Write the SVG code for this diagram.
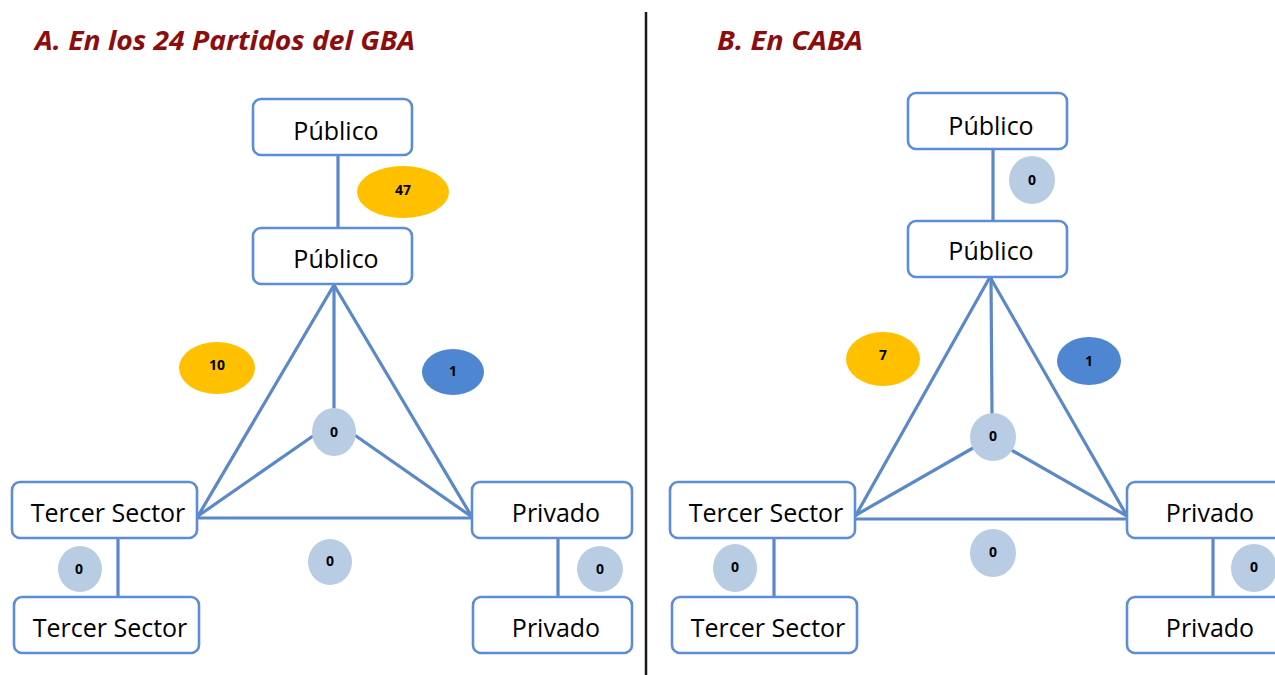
<svg xmlns="http://www.w3.org/2000/svg" width="1275" height="675" viewBox="0 0 1275 675">
  <style>
    .title { font-family: "Open Sans", "Liberation Sans", sans-serif; font-weight: bold; font-style: italic; font-size: 27px; fill: #8b0e0e; }
    .box { fill: #ffffff; stroke: #5b8ed6; stroke-width: 2.6; }
    .lbl { font-family: "Open Sans", "Liberation Sans", sans-serif; font-size: 25px; fill: #000000; text-anchor: middle; }
    .num { font-family: "Open Sans", "Liberation Sans", sans-serif; font-size: 14px; font-weight: bold; fill: #000000; text-anchor: middle; dominant-baseline: central; }
    .link { stroke: #5a88c8; stroke-width: 3.2; fill: none; stroke-linecap: round; }
    .yellow { fill: #ffc000; }
    .blue { fill: #4f86d1; }
    .pale { fill: #b8cce4; }
  </style>
  <rect width="1275" height="675" fill="#ffffff"/>

  <!-- panel divider -->
  <line x1="646" y1="12" x2="646" y2="675" stroke="#1a1a1a" stroke-width="2.5"/>

  <!-- titles -->
  <text class="title" x="35" y="50" textLength="380" lengthAdjust="spacingAndGlyphs">A. En los 24 Partidos del GBA</text>
  <text class="title" x="717" y="50" textLength="146" lengthAdjust="spacingAndGlyphs">B. En CABA</text>

  <!-- connectors -->
  <g id="connectors">
    <!-- panel A -->
    <line class="link" x1="338" y1="156" x2="338" y2="228"/>
    <line class="link" x1="334" y1="285" x2="198" y2="516"/>
    <line class="link" x1="334" y1="285" x2="472" y2="517"/>
    <line class="link" x1="334" y1="285" x2="334" y2="410"/>
    <line class="link" x1="313" y1="436" x2="198" y2="516"/>
    <line class="link" x1="356" y1="436" x2="472" y2="517"/>
    <line class="link" x1="198" y1="518" x2="472" y2="518"/>
    <line class="link" x1="118" y1="538" x2="118" y2="597"/>
    <line class="link" x1="558" y1="538" x2="558" y2="597"/>
    <!-- panel B -->
    <line class="link" x1="993" y1="149" x2="993" y2="220"/>
    <line class="link" x1="990" y1="277" x2="856" y2="515"/>
    <line class="link" x1="990" y1="277" x2="1127" y2="516"/>
    <line class="link" x1="991" y1="277" x2="992" y2="413"/>
    <line class="link" x1="973" y1="448" x2="856" y2="515"/>
    <line class="link" x1="1013" y1="451" x2="1127" y2="516"/>
    <line class="link" x1="856" y1="519" x2="1127" y2="519"/>
    <line class="link" x1="774" y1="538" x2="774" y2="597"/>
    <line class="link" x1="1213" y1="538" x2="1213" y2="597"/>
  </g>

  <!-- panel A nodes -->
  <g id="a-publico-top"><rect class="box" x="253" y="99" width="159" height="56" rx="8"/><text class="lbl" x="336" y="140">Público</text></g>
  <g id="a-publico"><rect class="box" x="253" y="228" width="159" height="56" rx="8"/><text class="lbl" x="336" y="268">Público</text></g>
  <g id="a-tercer"><rect class="box" x="12" y="482" width="185" height="56" rx="8"/><text class="lbl" x="108" y="522">Tercer Sector</text></g>
  <g id="a-privado"><rect class="box" x="472" y="482" width="160" height="56" rx="8"/><text class="lbl" x="556" y="522">Privado</text></g>
  <g id="a-tercer-bottom"><rect class="box" x="14" y="597" width="185" height="56" rx="8"/><text class="lbl" x="110" y="637">Tercer Sector</text></g>
  <g id="a-privado-bottom"><rect class="box" x="473" y="597" width="159" height="56" rx="8"/><text class="lbl" x="556" y="637">Privado</text></g>

  <!-- panel A counts -->
  <g id="a-count-pub-pub"><ellipse class="yellow" cx="403" cy="192" rx="46" ry="26"/><text class="num" x="403" y="189">47</text></g>
  <g id="a-count-pub-ter"><ellipse class="yellow" cx="217" cy="368" rx="38" ry="26"/><text class="num" x="217" y="364">10</text></g>
  <g id="a-count-pub-pri"><ellipse class="blue" cx="453" cy="372" rx="31" ry="23"/><text class="num" x="453" y="370">1</text></g>
  <g id="a-count-all"><ellipse class="pale" cx="334" cy="432" rx="22" ry="24"/><text class="num" x="334" y="431">0</text></g>
  <g id="a-count-ter-pri"><ellipse class="pale" cx="330" cy="562" rx="22" ry="23"/><text class="num" x="330" y="560">0</text></g>
  <g id="a-count-ter-ter"><ellipse class="pale" cx="80" cy="569" rx="22" ry="23"/><text class="num" x="79" y="568">0</text></g>
  <g id="a-count-pri-pri"><ellipse class="pale" cx="600" cy="569" rx="23" ry="23"/><text class="num" x="600" y="568">0</text></g>

  <!-- panel B nodes -->
  <g id="b-publico-top"><rect class="box" x="908" y="93" width="159" height="56" rx="8"/><text class="lbl" x="991" y="135">Público</text></g>
  <g id="b-publico"><rect class="box" x="908" y="221" width="159" height="56" rx="8"/><text class="lbl" x="991" y="260">Público</text></g>
  <g id="b-tercer"><rect class="box" x="670" y="482" width="185" height="56" rx="8"/><text class="lbl" x="766" y="522">Tercer Sector</text></g>
  <g id="b-privado"><rect class="box" x="1127" y="482" width="160" height="56" rx="8"/><text class="lbl" x="1210" y="522">Privado</text></g>
  <g id="b-tercer-bottom"><rect class="box" x="672" y="597" width="185" height="56" rx="8"/><text class="lbl" x="768" y="637">Tercer Sector</text></g>
  <g id="b-privado-bottom"><rect class="box" x="1127" y="597" width="160" height="56" rx="8"/><text class="lbl" x="1210" y="637">Privado</text></g>

  <!-- panel B counts -->
  <g id="b-count-pub-pub"><ellipse class="pale" cx="1032" cy="180" rx="23" ry="24"/><text class="num" x="1032" y="179">0</text></g>
  <g id="b-count-pub-ter"><ellipse class="yellow" cx="883" cy="359" rx="37" ry="27"/><text class="num" x="883" y="354">7</text></g>
  <g id="b-count-pub-pri"><ellipse class="blue" cx="1089" cy="361" rx="32" ry="24"/><text class="num" x="1089" y="360">1</text></g>
  <g id="b-count-all"><ellipse class="pale" cx="993" cy="437" rx="23" ry="24"/><text class="num" x="993" y="435">0</text></g>
  <g id="b-count-ter-pri"><ellipse class="pale" cx="993" cy="553" rx="23" ry="24"/><text class="num" x="993" y="551">0</text></g>
  <g id="b-count-ter-ter"><ellipse class="pale" cx="735" cy="568" rx="22" ry="24"/><text class="num" x="735" y="566">0</text></g>
  <g id="b-count-pri-pri"><ellipse class="pale" cx="1254" cy="568" rx="23" ry="24"/><text class="num" x="1254" y="566">0</text></g>
</svg>
